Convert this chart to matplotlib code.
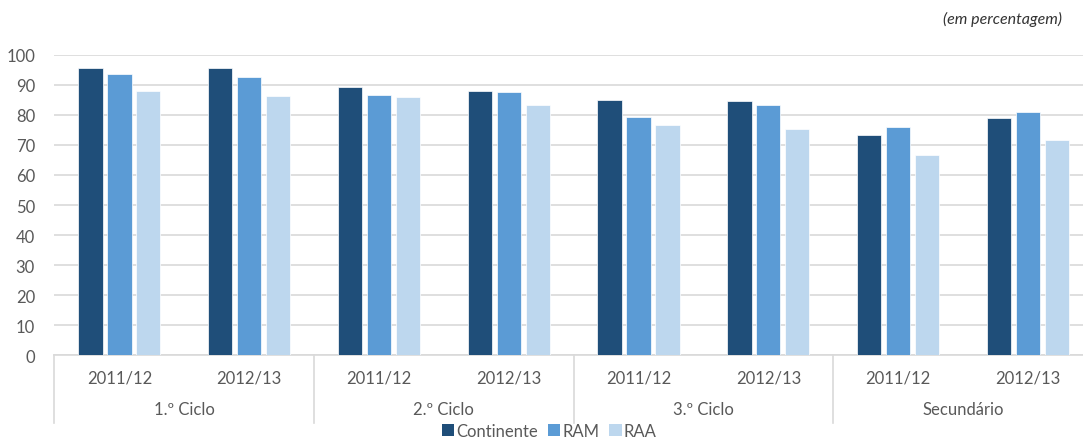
import matplotlib.pyplot as plt
import numpy as np
from matplotlib.patches import Patch

# taxa de transição/conclusão por ciclo e região
ciclos = ["1.º Ciclo", "2.º Ciclo", "3.º Ciclo", "Secundário"]
anos = ["2011/12", "2012/13"]
series = ["Continente", "RAM", "RAA"]
continente = [95.7, 95.6, 89.2, 87.9, 84.9, 84.6, 73.3, 78.9]
ram = [93.7, 92.8, 86.7, 87.6, 79.4, 83.3, 76.1, 81.0]
raa = [87.9, 86.3, 86.0, 83.2, 76.8, 75.3, 66.6, 71.7]
cores = ["#1F4E79", "#5B9BD5", "#BDD7EE"]

plt.rcParams["font.family"] = ["Lato", "DejaVu Sans"]

fig = plt.figure(figsize=(10.83, 4.39), dpi=100)
# o gráfico original está cortado à direita
ax = fig.add_axes([0.0503, 0.189, 0.9588, 0.6835])

x = np.arange(len(continente))
w = 0.187
for i, (vals, c) in enumerate(zip([continente, ram, raa], cores)):
    ax.bar(x + (i - 1) * 0.223, vals, width=w, color=c,
           edgecolor="white", linewidth=0.5, zorder=3)

ax.set_xlim(-0.5, len(continente) - 0.5)
ax.set_ylim(0, 100)
ax.set_yticks(range(0, 101, 10))
ax.grid(axis="y", color="#D9D9D9", linewidth=1.2, zorder=0)
for s in ["top", "right", "left"]:
    ax.spines[s].set_visible(False)
ax.spines["bottom"].set_color("#D9D9D9")
ax.spines["bottom"].set_linewidth(1.2)
ax.tick_params(axis="y", length=0, labelsize=12, colors="#595959", pad=14)
ax.set_xticks([])

trans = ax.get_xaxis_transform()
for k in range(len(continente)):
    ax.text(k, -0.075, anos[k % 2], transform=trans, ha="center", va="center",
            fontsize=12, color="#595959")
for g, nome in enumerate(ciclos):
    ax.text(2 * g + 0.5, -0.18, nome, transform=trans, ha="center", va="center",
            fontsize=12, color="#595959")
for b in range(len(ciclos) + 1):
    ax.plot([2 * b - 0.5] * 2, [0, -0.225], transform=trans, color="#D9D9D9",
            linewidth=1.2, clip_on=False)

handles = [Patch(facecolor=c, edgecolor="none") for c in cores]
fig.legend(handles, series, loc="center", bbox_to_anchor=(0.507, 0.016),
           ncol=3, frameon=False, fontsize=12, handlelength=0.75, handleheight=0.75,
           handletextpad=0.12, columnspacing=0.6, labelcolor="#595959")

fig.text(0.981, 0.955, "(em percentagem)", ha="right", va="center",
         fontsize=11.5, style="italic", color="#333333")

fig.savefig("out.png", dpi=100)
